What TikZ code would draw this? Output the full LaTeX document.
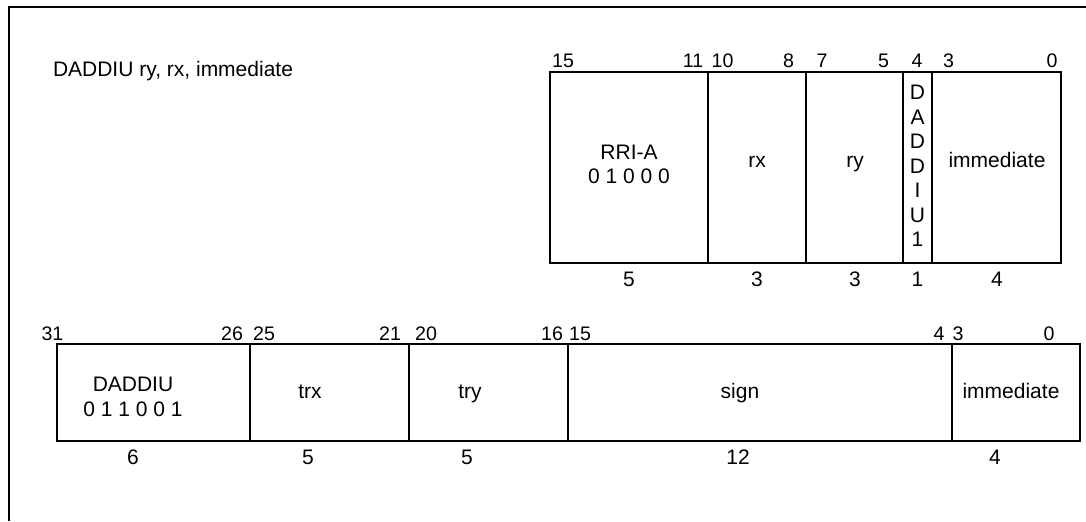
\documentclass[tikz,border=0pt]{standalone}
\usepackage{fontspec}
\setmainfont{Liberation Sans}
\begin{document}
\begin{tikzpicture}[x=0.5pt,y=-0.5pt,
  every node/.style={inner sep=0pt,outer sep=0pt,font=\fontsize{10.5pt}{12pt}\selectfont},
  fieldbox/.style={draw,line width=1pt,anchor=north west},
  bitnum/.style={anchor=base,font=\fontsize{9.8pt}{12pt}\selectfont},
  frameline/.style={line width=1pt}]
\useasboundingbox (0,0) rectangle (1086,521);
\draw[frameline] (9,521) -- (9,7) -- (1086,7);
\node[anchor=base west] (title) at (53,76) {DADDIU ry, rx, immediate};
% top format (16 bit)
\node[fieldbox,minimum width=79pt,minimum height=95.5pt] (rri) at (550,72) {};
\node[fieldbox,minimum width=49pt,minimum height=95.5pt] (rx) at (708,72) {};
\node[fieldbox,minimum width=48.5pt,minimum height=95.5pt] (ry) at (806,72) {};
\node[fieldbox,minimum width=14.5pt,minimum height=95.5pt] (d1) at (903,72) {};
\node[fieldbox,minimum width=64.5pt,minimum height=95.5pt] (imm) at (932,72) {};
\node[align=center] (rritxt) at (629,164.5) {RRI-A\\0 1 0 0 0};
\node[anchor=base] (rxtxt) at (757,167) {rx};
\node[anchor=base] (rytxt) at (855,167) {ry};
\node[align=center,font=\fontsize{10.5pt}{12.25pt}\selectfont] (d1txt) at (917.5,166) {D\\A\\D\\D\\I\\U\\1};
\node[anchor=base] (immtxt) at (997,167) {immediate};
\foreach \n/\x in {15/563,11/693,10/722.5,8/788.5,7/822,5/883.5,4/917,3/948.5,0/1052}
  \node[bitnum] (tb\n) at (\x,67) {\n};
\foreach \n/\x in {5/629,3/757,3/855,1/917.5,4/997}
  \node (tw\x) at (\x,279) {\n};
% bottom format (32 bit)
\node[fieldbox,minimum width=96.5pt,minimum height=48.5pt] (op) at (57,344) {};
\node[fieldbox,minimum width=79.5pt,minimum height=48.5pt] (trx) at (250,344) {};
\node[fieldbox,minimum width=79.5pt,minimum height=48.5pt] (try) at (409,344) {};
\node[fieldbox,minimum width=192pt,minimum height=48.5pt] (sign) at (568,344) {};
\node[fieldbox,minimum width=64pt,minimum height=48.5pt] (bimm) at (952,344) {};
\node[align=center,font=\fontsize{10.5pt}{12.5pt}\selectfont] (optxt) at (133,396.5) {DADDIU\\0 1 1 0 0 1};
\node[anchor=base] (trxtxt) at (310,398) {trx};
\node[anchor=base] (trytxt) at (470,398) {try};
\node[anchor=base] (signtxt) at (740,398) {sign};
\node[anchor=base] (bimmtxt) at (1011,398) {immediate};
\foreach \n/\x in {31/52.5,26/232,25/264,21/390,20/426,16/552,15/580,4/939,3/958,0/1049}
  \node[bitnum] (bb\n) at (\x,340) {\n};
\foreach \n/\x in {6/133,5/308,5/467,12/738,4/995}
  \node (bw\x) at (\x,457) {\n};
\end{tikzpicture}
\end{document}
